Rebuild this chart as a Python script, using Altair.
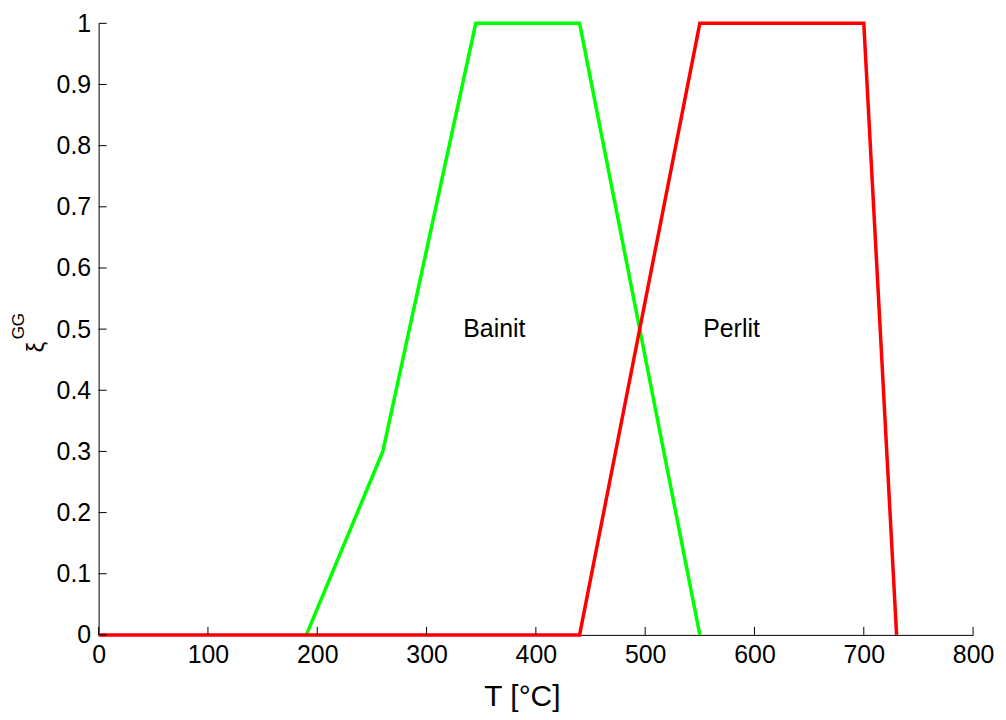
import altair as alt
import pandas as pd

# Data
bainit_T = [190, 260, 345, 440, 550]
bainit_xi = [0.0, 0.3, 1.0, 1.0, 0.0]
perlit_T = [0, 440, 550, 700, 730]
perlit_xi = [0.0, 0.0, 1.0, 1.0, 0.0]

label_names = ["Bainit", "Perlit"]
label_T = [362, 579]
label_xi = [0.5, 0.5]

x_ticks = [0, 100, 200, 300, 400, 500, 600, 700, 800]
y_ticks = [0, 0.1, 0.2, 0.3, 0.4, 0.5, 0.6, 0.7, 0.8, 0.9, 1]

FONT = "Liberation Sans"
W, H = 878, 614

df_b = pd.DataFrame({"T": bainit_T, "xi": bainit_xi, "i": range(len(bainit_T))})
df_p = pd.DataFrame({"T": perlit_T, "xi": perlit_xi, "i": range(len(perlit_T))})
df_lab = pd.DataFrame({"T": label_T, "xi": label_xi, "name": label_names})
df_xt = pd.DataFrame({"T": x_ticks})
df_yt = pd.DataFrame({"xi": y_ticks})

xscale = alt.Scale(domain=[0, 800], nice=False, zero=False)
yscale = alt.Scale(domain=[0, 1], nice=False, zero=False)

x_axis = alt.Axis(
    values=x_ticks, ticks=False, tickSize=0, grid=False, domainColor="black",
    domainWidth=1, labelFont=FONT, labelFontSize=25, labelColor="black",
    labelPadding=8, labelFlush=False, titleFont=FONT,
    titleFontSize=30, titleFontWeight="normal", titleColor="black",
    titleX=425, titleY=71, titleBaseline="alphabetic", titleAlign="center",
)
y_axis = alt.Axis(
    values=y_ticks, ticks=False, tickSize=0, grid=False, domainColor="black",
    domainWidth=1, labelFont=FONT, labelFontSize=25, labelColor="black",
    labelPadding=8, labelFlush=False, format=".1~f",
)

X = alt.X("T:Q", scale=xscale, axis=x_axis, title="T [°C]")
Y = alt.Y("xi:Q", scale=yscale, axis=y_axis, title=None)

green = alt.Chart(df_b).mark_line(color="#00ff00", strokeWidth=3.5).encode(
    x=X, y=Y, order="i:Q",
)
red = alt.Chart(df_p).mark_line(color="#ff0000", strokeWidth=3.5).encode(
    x=X, y=Y, order="i:Q",
)
labels = alt.Chart(df_lab).mark_text(
    font=FONT, fontSize=25, color="black", align="center", baseline="middle"
).encode(x=X, y=Y, text="name:N")
xt = alt.Chart(df_xt).mark_rule(color="black", strokeWidth=1).encode(
    x=X, y=alt.value(H), y2=alt.value(H - 8),
)
yt = alt.Chart(df_yt).mark_rule(color="black", strokeWidth=1).encode(
    y=Y, x=alt.value(0), x2=alt.value(8),
)
df_t1 = pd.DataFrame({"t": ["ξ"]})
df_t2 = pd.DataFrame({"t": ["GG"]})
ytitle1 = alt.Chart(df_t1).mark_text(
    font=FONT, fontSize=24, color="black", angle=270, align="center", baseline="middle"
).encode(text="t:N", x=alt.value(-62), y=alt.value(325))
ytitle2 = alt.Chart(df_t2).mark_text(
    font=FONT, fontSize=17, color="black", angle=270, align="center", baseline="middle"
).encode(text="t:N", x=alt.value(-80), y=alt.value(304))

chart = alt.layer(green, red, labels, xt, yt, ytitle1, ytitle2).properties(
    width=W, height=H,
    background="white",
    autosize=alt.AutoSizeParams(type="none"),
    padding={"left": 91, "top": 14, "right": 25, "bottom": 76},
).configure_view(stroke=None)

chart.save("out.html", embed_options={"renderer": "svg", "actions": False})
